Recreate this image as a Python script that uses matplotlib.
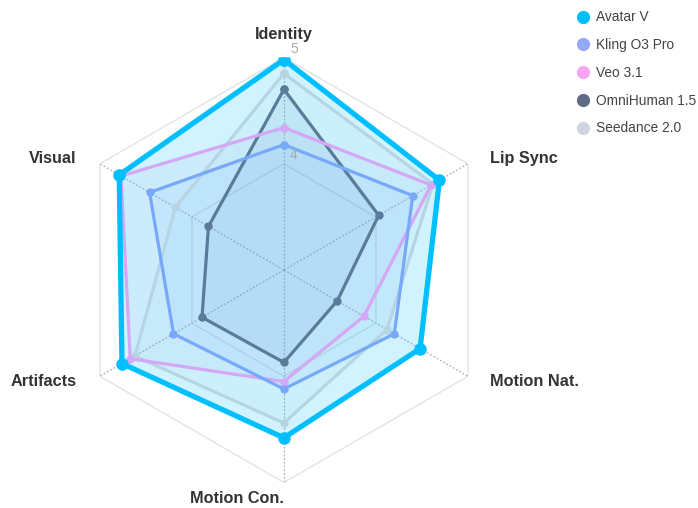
import numpy as np
import matplotlib
matplotlib.use("Agg")
import matplotlib.pyplot as plt
from matplotlib.lines import Line2D

plt.rcParams["font.family"] = ["Liberation Sans", "DejaVu Sans"]

categories = ["Identity", "Lip Sync", "Motion Nat.", "Motion Con.", "Artifacts", "Visual"]
models = ["Avatar V", "Kling O3 Pro", "Veo 3.1", "OmniHuman 1.5", "Seedance 2.0"]

avatar_v = [4.98, 4.69, 4.48, 4.58, 4.76, 4.79]
kling_o3 = [4.18, 4.40, 4.20, 4.12, 4.20, 4.46]
veo_31 = [4.34, 4.60, 3.87, 4.05, 4.67, 4.77]
omnihuman = [4.70, 4.03, 3.58, 3.87, 3.89, 3.82]
seedance = [4.85, 4.62, 4.12, 4.44, 4.62, 4.18]

r_min, r_max = 3, 5
rings = [4, 5]

series = [seedance, omnihuman, veo_31, kling_o3, avatar_v]
names = ["Seedance 2.0", "OmniHuman 1.5", "Veo 3.1", "Kling O3 Pro", "Avatar V"]
line_colors = ["#b7d4e2", "#5a7b9a", "#d4a8f6", "#78a8fa", "#00bfff"]
fill_colors = ["#b7d4e2", "#5a7b9a", "#c8b0f6", "#78a8fa", "#00bfff"]
legend_colors = ["#00bfff", "#94a8f6", "#f5a6f3", "#5f6b82", "#cfd5de"]

n = len(categories)
theta = np.arange(n) * 2 * np.pi / n
theta_closed = np.append(theta, theta[0])

fig = plt.figure(figsize=(6.98, 5.08), dpi=100)
ax = fig.add_axes([0.1023, 0.0502, 0.6089, 0.8366], projection="polar")
ax.set_theta_zero_location("N")
ax.set_theta_direction(-1)
ax.set_ylim(r_min, r_max)
ax.grid(False)
ax.spines["polar"].set_visible(False)
ax.set_xticks([])
ax.set_yticks([])
ax.patch.set_alpha(0)

# hexagon grid
for rv in rings:
    ax.plot(theta_closed, [rv] * (n + 1), color="#e2e2e2", lw=1.0, zorder=1)
for t in theta:
    ax.plot([t, t], [r_min, r_max], color="#b0b0b0", lw=0.9, ls=(0, (1.5, 1.5)), zorder=1)

for vals, name, lc, fc in zip(series, names, line_colors, fill_colors):
    v = np.append(vals, vals[0])
    big = name == "Avatar V"
    ax.fill(theta_closed, v, color=fc, alpha=0.18 if big else 0.09, lw=0, zorder=2)
    ax.plot(theta_closed, v, color=lc, lw=3.8 if big else 2.3, zorder=3,
            marker="o", markersize=9 if big else 6, markeredgewidth=0)

# category labels
offsets = [(0, 23, "center"), (22, 5, "left"), (22, -5, "left"),
           (0, -16, "right"), (-23, -5, "right"), (-23, 5, "right")]
for t, label, (dx, dy, ha) in zip(theta, categories, offsets):
    ax.annotate(label, xy=(t, r_max), xytext=(dx, dy), textcoords="offset pixels",
                ha=ha, va="center", fontsize=11.7, fontweight="bold", color="#333333",
                annotation_clip=False)

# ring labels
for rv in rings:
    ax.annotate(str(rv), xy=(0, rv), xytext=(10, 9), textcoords="offset pixels",
                ha="center", va="center", fontsize=10, color="#aaaaaa",
                annotation_clip=False, zorder=10)

handles = [Line2D([0], [0], marker="o", ls="", markersize=9.5, markeredgewidth=0,
                  color=c) for c in legend_colors]
fig.legend(handles, models, loc="upper left", bbox_to_anchor=(0.806, 1.004),
           frameon=False, fontsize=9.9, labelspacing=1.0, handletextpad=0.35,
           handlelength=1.2, labelcolor="#444444")

fig.savefig("out.png", dpi=100)
